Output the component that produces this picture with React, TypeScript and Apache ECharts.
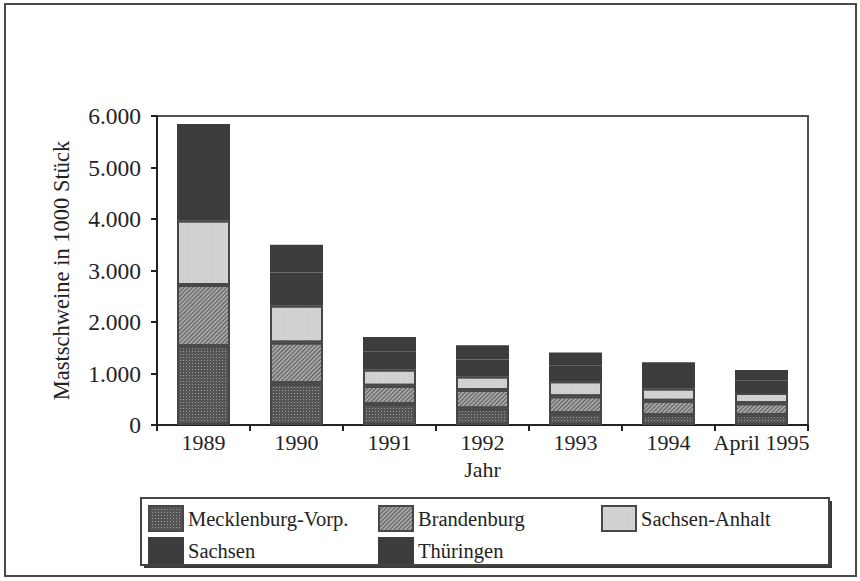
import React, { useEffect, useRef } from "react";
import * as echarts from "echarts";

const categories = ["1989", "1990", "1991", "1992", "1993", "1994", "April 1995"];
const mecklenburg = [1530, 810, 410, 320, 230, 190, 190];
const brandenburg = [1190, 790, 350, 360, 330, 280, 230];
const sachsenAnhalt = [1250, 720, 320, 260, 290, 240, 200];
const sachsen = [1000, 640, 340, 330, 300, 280, 240];
const thueringen = [875, 540, 290, 280, 260, 230, 210];
const yTicks = [0, 1000, 2000, 3000, 4000, 5000, 6000];

const FONT = "Liberation Serif";
const TXT = "#232323";
const BORDER = "#474747";

const fmt = (v: number) => String(v).replace(/\B(?=(\d{3})+(?!\d))/g, ".");

export default function App() {
  const ref = useRef<HTMLDivElement>(null);
  useEffect(() => {
    if (!ref.current) return;
    const chart = echarts.init(ref.current, null, { renderer: "svg" });
    const base = {
      type: "bar",
      stack: "total",
      barWidth: 53,
    };
    const series = [
      {
        ...base,
        name: "Mecklenburg-Vorp.",
        data: mecklenburg,
        itemStyle: {
          color: "#555555",
          borderColor: BORDER,
          borderWidth: 2,
          decal: { symbol: "rect", symbolSize: 1, dashArrayX: [1, 2], dashArrayY: [1, 2], color: "#9a9a9a" },
        },
      },
      {
        ...base,
        name: "Brandenburg",
        data: brandenburg,
        itemStyle: {
          color: "#a5a5a5",
          borderColor: BORDER,
          borderWidth: 2,
          decal: { symbol: "rect", symbolSize: 1, dashArrayX: [1, 0], dashArrayY: [1, 2], rotation: -Math.PI / 4, color: "#5c5c5c" },
        },
      },
      {
        ...base,
        name: "Sachsen-Anhalt",
        data: sachsenAnhalt,
        itemStyle: {
          color: "#d3d3d3",
          borderColor: BORDER,
          borderWidth: 2,
          decal: { symbol: "rect", symbolSize: 1, dashArrayX: [1, 2], dashArrayY: [1, 1], color: "#c6c6c6" },
        },
      },
      {
        ...base,
        name: "Sachsen",
        data: sachsen,
        itemStyle: { color: "#3c3c3c", borderColor: "#3c3c3c", borderWidth: 2 },
      },
      {
        ...base,
        name: "Thüringen",
        data: thueringen,
        itemStyle: { color: "#3c3c3c", borderColor: "#3c3c3c", borderWidth: 2 },
      },
    ];
    const legendCommon = {
      orient: "vertical",
      top: 505,
      padding: 0,
      icon: "rect",
      itemWidth: 34,
      itemHeight: 25,
      itemGap: 5,
      textStyle: { fontFamily: FONT, fontSize: 20.5, color: TXT },
      selectedMode: false,
    };
    chart.setOption({
      animation: false,
      backgroundColor: "#ffffff",
      grid: {
        left: 157,
        right: 52,
        top: 116,
        bottom: 156,
        show: true,
        borderColor: "#505050",
        borderWidth: 2,
      },
      legend: [
        { ...legendCommon, left: 148, data: ["Mecklenburg-Vorp.", "Sachsen"] },
        { ...legendCommon, left: 378, data: ["Brandenburg", "Thüringen"] },
        { ...legendCommon, left: 601, data: ["Sachsen-Anhalt"] },
      ],
      xAxis: {
        type: "category",
        data: categories,
        name: "Jahr",
        nameLocation: "middle",
        nameGap: 33,
        nameTextStyle: { fontFamily: FONT, fontSize: 22, color: TXT },
        axisLine: { lineStyle: { color: "#222", width: 2 } },
        axisTick: { show: true, length: 6, lineStyle: { color: "#222", width: 2 } },
        axisLabel: { fontFamily: FONT, fontSize: 22, color: TXT, margin: 6, interval: 0 },
      },
      yAxis: {
        type: "value",
        min: 0,
        max: 6000,
        interval: 1000,
        name: "Mastschweine in 1000 Stück",
        nameLocation: "middle",
        nameGap: 84,
        nameTextStyle: { fontFamily: FONT, fontSize: 22.5, color: TXT },
        axisLine: { show: true, lineStyle: { color: "#222", width: 2 } },
        axisTick: { show: true, length: 6, lineStyle: { color: "#222", width: 2 } },
        splitLine: { show: false },
        axisLabel: {
          fontFamily: FONT,
          fontSize: 23.5,
          color: TXT,
          margin: 16,
          formatter: (v: number) => (yTicks.includes(v) ? fmt(v) : ""),
        },
      },
      graphic: [
        {
          type: "rect",
          shape: { x: 5, y: 4, width: 851, height: 572 },
          style: { fill: "none", stroke: "#4a4a4a", lineWidth: 2 },
          z: 0,
        },
        {
          type: "rect",
          shape: { x: 144, y: 501, width: 688, height: 67 },
          style: { fill: "#3a3a3a" },
          z: 0,
        },
        {
          type: "rect",
          shape: { x: 141, y: 498, width: 688, height: 67 },
          style: { fill: "#ffffff", stroke: "#444", lineWidth: 2 },
          z: 1,
        },
      ],
      series,
    });
    return () => chart.dispose();
  }, []);
  return (
    <div
      ref={ref}
      style={{ position: "fixed", left: 0, top: 0, width: 860, height: 581 }}
    />
  );
}
